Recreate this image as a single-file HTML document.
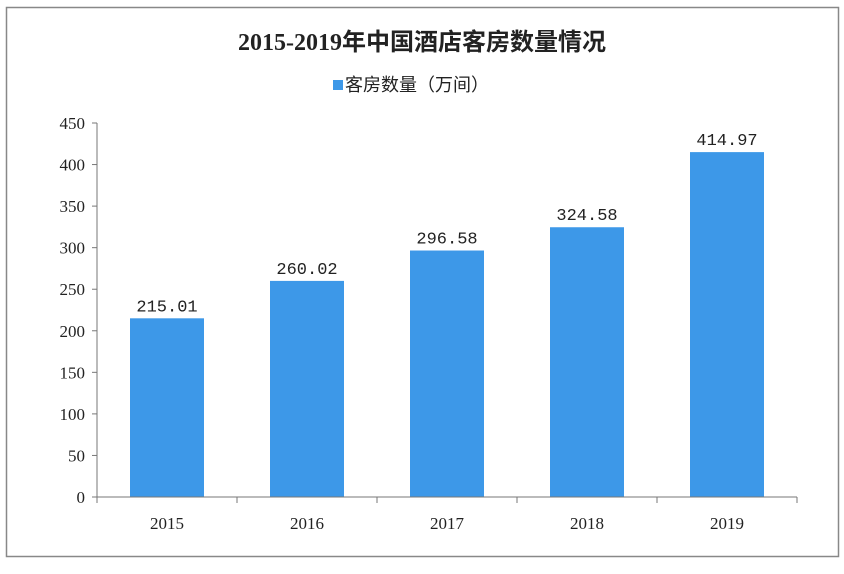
<!DOCTYPE html>
<html><head><meta charset="utf-8">
<style>
body{margin:0;background:#fff;width:844px;height:569px;overflow:hidden}
svg text{font-family:"Liberation Serif","Noto Serif CJK SC",serif;fill:#222}
</style></head><body>
<svg id="chart" width="844" height="569" xmlns="http://www.w3.org/2000/svg">
<rect x="6.5" y="7.5" width="832" height="549" fill="#fff" stroke="#888" stroke-width="1.5"/>
<text x="422" y="50" text-anchor="middle" font-size="24" font-weight="bold" style="font-family:'Liberation Serif','Noto Sans CJK SC',sans-serif">2015-2019年中国酒店客房数量情况</text>
<g>
<rect x="333" y="123" width="0" height="0"/>
<rect x="333" y="80" width="10" height="10" fill="#3d98e8"/>
<text x="345" y="91" font-size="18" style="font-family:'Liberation Sans','Noto Sans CJK SC',sans-serif">客房数量（万间）</text>
</g>
<g id="yaxis"></g>
<g id="bars"></g>
<g id="xaxis"></g>
</svg>
<script>
const categories=["2015","2016","2017","2018","2019"];
const values=[215.01,260.02,296.58,324.58,414.97];
const valueLabels=["215.01","260.02","296.58","324.58","414.97"];
const yTicks=[0,50,100,150,200,250,300,350,400,450];
const NS="http://www.w3.org/2000/svg";
const x0=97,x1=797,y0=497,yTop=123,yMax=450;
const band=(x1-x0)/categories.length,barW=74;
function y(v){return y0-(v/yMax)*(y0-yTop);}
function xc(i){return x0+band*(i+0.5);}
function mk(tag,attrs,parent){const e=document.createElementNS(NS,tag);for(const k in attrs)e.setAttribute(k,attrs[k]);parent.appendChild(e);return e;}
const ya=document.getElementById('yaxis'),xa=document.getElementById('xaxis'),bg=document.getElementById('bars');
let l=mk('line',{x1:x0,y1:yTop,x2:x0,y2:y0,stroke:'#777','stroke-width':1},ya);


yTicks.forEach(t=>{
 const tk=mk('line',{x1:x0-5,y1:y(t),x2:x0,y2:y(t),stroke:'#777'},ya);
 
 
 const tx=mk('text',{x:x0-12,y:y(t)+6,'text-anchor':'end','font-size':17},ya);
 tx.textContent=t;
 
 
});
categories.forEach((c,i)=>{
 const b=mk('rect',{x:xc(i)-barW/2,y:y(values[i]),width:barW,height:y0-y(values[i]),fill:'#3d98e8'},bg);
 
 
 const vl=mk('text',{x:xc(i),y:y(values[i])-7,'text-anchor':'middle','font-size':17,style:"font-family:'Liberation Mono',monospace"},bg);
 vl.textContent=valueLabels[i];
 
 
 const xl=mk('text',{x:xc(i),y:y0+32,'text-anchor':'middle','font-size':17},xa);
 xl.textContent=c;
 
 
});
const xl=mk('line',{x1:x0,y1:y0,x2:x1,y2:y0,stroke:'#777'},xa);


for(let i=0;i<=categories.length;i++){
 const tk=mk('line',{x1:x0+band*i,y1:y0,x2:x0+band*i,y2:y0+6,stroke:'#777'},xa);
 
 
}
</script>
</body></html>
